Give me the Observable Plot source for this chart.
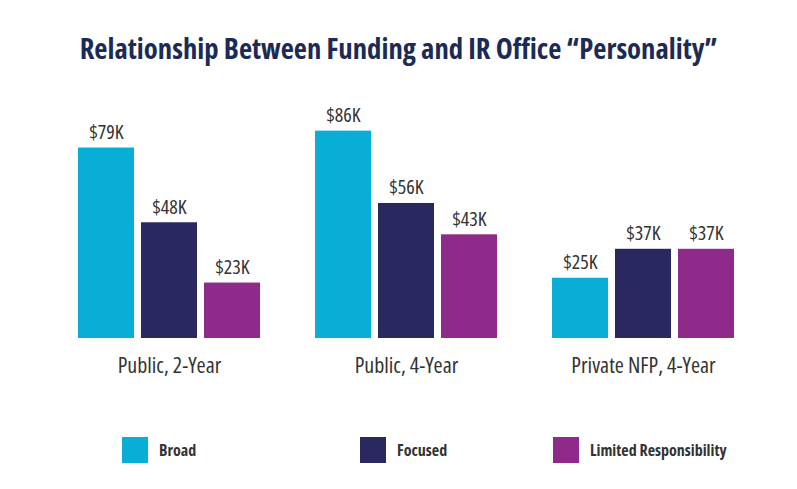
<!DOCTYPE html>
<html>
<head>
<meta charset="utf-8">
<script src="https://cdn.jsdelivr.net/npm/d3@7"></script>
<script src="https://cdn.jsdelivr.net/npm/@observablehq/plot@0.6"></script>
<style>
  html, body { margin: 0; padding: 0; background: #fff; }
  #wrap { position: relative; width: 797px; height: 489px; overflow: hidden;
    font-family: "Open Sans", sans-serif; font-stretch: condensed; }
  #title { position: absolute; left: 0; top: 28px; width: 797px; text-align: center;
    font-weight: bold; font-size: 28.7px; color: #1c2b55; line-height: 40px; white-space: nowrap; }
  #chart { position: absolute; left: 0; top: 90px; }
  .legend-item { position: absolute; top: 437px; height: 26px; display: flex; align-items: center;
    font-weight: bold; font-size: 16px; color: #333; white-space: nowrap; }
  .swatch { width: 26px; height: 26px; margin-right: 11px; }
</style>
</head>
<body>
<div id="wrap">
  <div id="title">Relationship Between Funding and IR Office “Personality”</div>
  <div id="chart"></div>
</div>
<script>
// Data
const groups = ["Public, 2-Year", "Public, 4-Year", "Private NFP, 4-Year"];
const series = ["Broad", "Focused", "Limited Responsibility"];
const broadValues = [79, 86, 25];
const focusedValues = [48, 56, 37];
const limitedValues = [23, 43, 37];
const colors = ["#09aed6", "#29285f", "#8e2a8a"];

const seriesValues = [broadValues, focusedValues, limitedValues];
const data = [];
groups.forEach((g, gi) => {
  series.forEach((s, si) => {
    data.push({group: g, series: s, value: seriesValues[si][gi]});
  });
});

const chart = Plot.plot({
  width: 797,
  height: 305,
  marginLeft: 76,
  marginRight: 62,
  marginTop: 31,
  marginBottom: 57,
  style: {fontFamily: '"Open Sans", sans-serif', fontStretch: "condensed", background: "transparent", overflow: "visible"},
  facet: {data, x: "group"},
  fx: {domain: groups, paddingInner: 0.225, paddingOuter: 0, axis: "bottom", label: null,
       tickSize: 0, tickPadding: 19},
  x: {domain: series, paddingInner: 0.109, paddingOuter: 0, axis: null},
  y: {domain: [0, 90], axis: null},
  color: {domain: series, range: colors},
  marks: [
    Plot.barY(data, {x: "series", y: "value", fill: "series"}),
    Plot.text(data, {x: "series", y: "value", text: d => `$${d.value}K`,
      dy: -9, lineAnchor: "bottom", fontSize: 20, fill: "#333"})
  ]
});
chart.querySelectorAll('g[aria-label^="fx-axis"] text').forEach(t => {
  t.setAttribute("font-size", 22);
  t.setAttribute("fill", "#333");
});
document.getElementById("chart").appendChild(chart);

// Legend built from the series and colors arrays
const legendLeft = [122, 360, 553];
const wrap = document.getElementById("wrap");
series.forEach((s, i) => {
  const item = document.createElement("div");
  item.className = "legend-item";
  item.style.left = legendLeft[i] + "px";
  const sw = document.createElement("span");
  sw.className = "swatch";
  sw.style.background = colors[i];
  const lab = document.createElement("span");
  lab.textContent = s;
  item.appendChild(sw);
  item.appendChild(lab);
  wrap.appendChild(item);
});
</script>
</body>
</html>
